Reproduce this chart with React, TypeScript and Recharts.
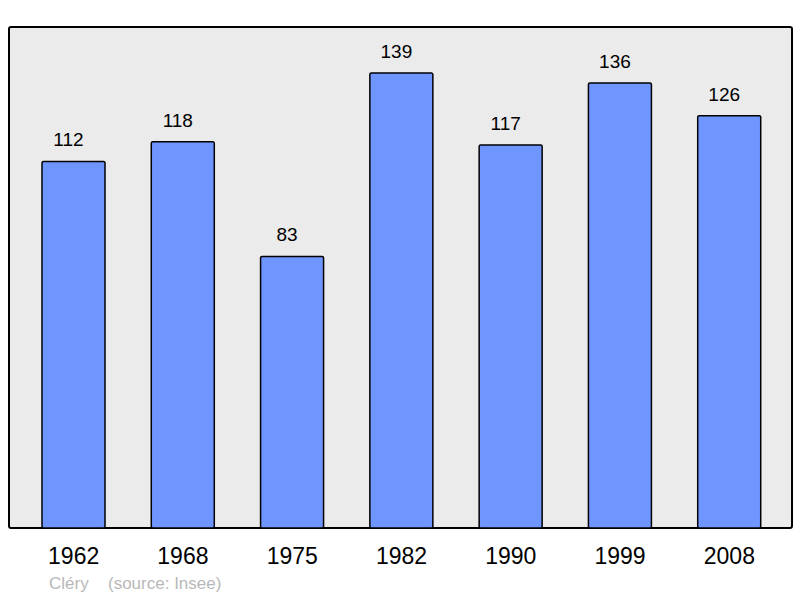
import { BarChart, Bar, XAxis, YAxis, LabelList } from "recharts"

const years = ["1962", "1968", "1975", "1982", "1990", "1999", "2008"]
const population = [112, 118, 83, 139, 117, 136, 126]

const data = years.map((year, i) => ({ year, population: population[i] }))

const FONT = "'Liberation Sans', Arial, sans-serif"

export default function App() {
  return (
    <div style={{ position: "absolute", left: 0, top: 0, width: 800, height: 598, fontFamily: FONT }}>
      <div
        style={{
          position: "absolute",
          left: 8,
          top: 26,
          width: 785,
          height: 503,
          boxSizing: "border-box",
          border: "2px solid #000",
          borderRadius: 3,
          background: "#ebebeb",
        }}
      />
      <div style={{ position: "absolute", left: 0, top: 0 }}>
        <BarChart
          width={800}
          height={598}
          data={data}
          margin={{ top: 26, right: 7, left: 10, bottom: 0 }}
        >
          <XAxis
            dataKey="year"
            height={70}
            axisLine={false}
            tickLine={false}
            tickSize={8}
            tickMargin={12}
            padding={{ left: 9, right: 9 }}
            tick={{ fill: "#000", fontSize: 23, fontFamily: FONT }}
            interval={0}
          />
          <YAxis hide domain={[0, 153.4]} />
          <Bar
            dataKey="population"
            fill="#6f96ff"
            stroke="#000"
            strokeWidth={1.5}
            barSize={63}
            radius={1.5}
            isAnimationActive={false}
          >
            <LabelList
              dataKey="population"
              position="top"
              offset={15}
              dx={-5}
              fill="#000"
              fontSize={19}
              fontFamily={FONT}
            />
          </Bar>
        </BarChart>
      </div>
      <svg width={800} height={598} style={{ position: "absolute", left: 0, top: 0, pointerEvents: "none" }}>
        <text x={49} y={589} fontSize={17} fill="#b8b8b8" fontFamily={FONT}>
          Cléry
        </text>
        <text x={108} y={589} fontSize={17} fill="#b8b8b8" fontFamily={FONT}>
          (source: Insee)
        </text>
      </svg>
    </div>
  )
}
